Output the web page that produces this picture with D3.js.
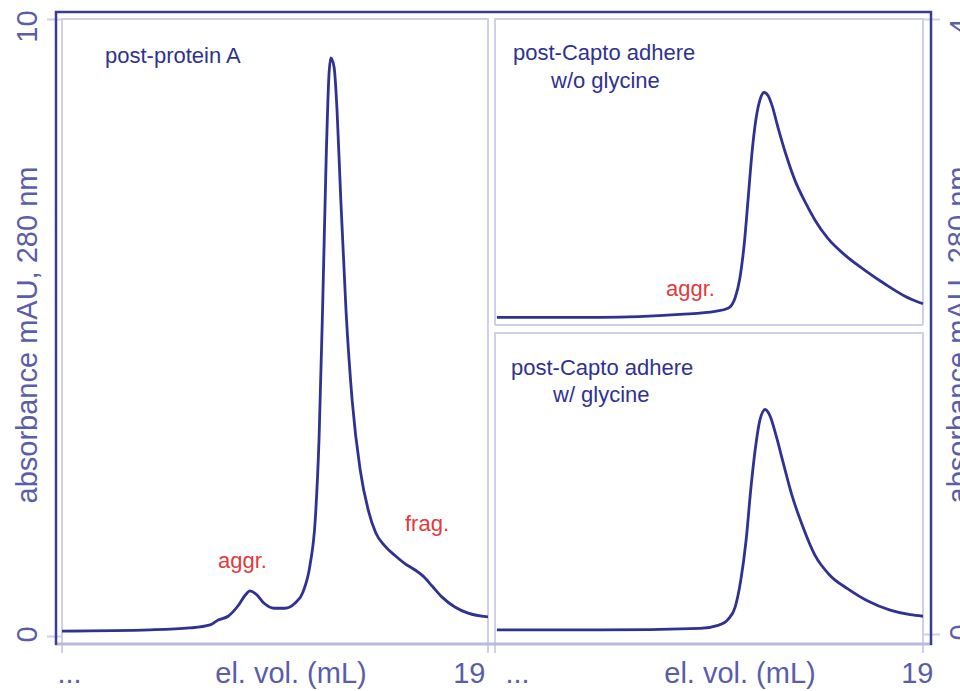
<!DOCTYPE html>
<html>
<head>
<meta charset="utf-8">
<script src="https://cdn.jsdelivr.net/npm/d3@7"></script>
<style>
  body { margin: 0; background: #fff; }
  text { font-family: "Liberation Sans", Arial, sans-serif; }
</style>
</head>
<body>
<svg id="chart" width="960" height="691"></svg>
<script>
// elution volume (mL) and absorbance
const protAVol = [10.00, 11.86, 12.70, 13.13, 13.30, 13.51, 13.72, 13.87, 13.97, 14.10, 14.27, 14.48, 14.71, 14.92, 15.09, 15.24, 15.35, 15.43, 15.51, 15.58, 15.64, 15.68, 15.75, 15.81, 15.89, 16.00, 16.13, 16.30, 16.47, 16.63, 16.82, 17.04, 17.25, 17.46, 17.63, 17.82, 18.03, 18.30, 18.58, 19.00];
const protAAbs = [0.08, 0.10, 0.13, 0.18, 0.26, 0.32, 0.49, 0.66, 0.73, 0.68, 0.53, 0.45, 0.45, 0.53, 0.71, 1.15, 1.88, 3.18, 5.45, 7.71, 9.09, 9.37, 9.21, 8.53, 7.07, 5.28, 3.82, 2.69, 2.04, 1.67, 1.46, 1.30, 1.17, 1.07, 0.97, 0.81, 0.63, 0.47, 0.37, 0.31];

const noGlyVol = [10.04, 12.21, 13.89, 14.63, 14.90, 15.05, 15.15, 15.24, 15.32, 15.40, 15.49, 15.57, 15.66, 15.74, 15.82, 15.95, 16.10, 16.31, 16.52, 16.73, 17.00, 17.36, 17.78, 18.20, 18.62, 19.00];
const noGlyAbs = [0.03, 0.03, 0.05, 0.07, 0.09, 0.16, 0.29, 0.51, 0.80, 1.10, 1.34, 1.46, 1.51, 1.49, 1.43, 1.28, 1.12, 0.93, 0.79, 0.67, 0.55, 0.44, 0.34, 0.25, 0.17, 0.12];

const glyVol = [10.04, 12.21, 14.31, 14.69, 14.90, 15.05, 15.17, 15.28, 15.38, 15.49, 15.57, 15.68, 15.78, 15.91, 16.06, 16.24, 16.46, 16.73, 17.04, 17.42, 17.84, 18.31, 18.73, 19.00];
const glyAbs = [0.04, 0.04, 0.05, 0.07, 0.11, 0.19, 0.37, 0.63, 0.97, 1.27, 1.42, 1.49, 1.45, 1.32, 1.14, 0.93, 0.73, 0.53, 0.40, 0.31, 0.23, 0.17, 0.14, 0.13];

const xTicks = [10, 19];
const xTickLabels = ["...", "19"];
const yLeftTicks = [0, 10];
const yRightTicks = [0, 4];

const DARK = "#383c96";
const LINE = "#2f3290";
const LIGHT = "#cfd0e8";
const TXT = "#5a5da8";
const RED = "#e23a3c";

const svg = d3.select("#chart");

// scales
const xLeft = d3.scaleLinear().domain([10, 19]).range([62, 488]);
const xRight = d3.scaleLinear().domain([10, 19]).range([495, 923]);
const yLeft = d3.scaleLinear().domain([0, 10]).range([636, 19]);
const yTop = d3.scaleLinear().domain([0, 2]).range([322, 18]);
const yBot = d3.scaleLinear().domain([0, 2]).range([636, 332]);
const yRight = d3.scaleLinear().domain([0, 4]).range([634, 19]);

// light panel frames
const panels = [
  [62, 19, 488, 653],
  [495, 19, 923, 325],
  [495, 333, 923, 653]
];
svg.selectAll(".panel")
  .data(panels)
  .enter()
  .append("path")
  .attr("d", d => `M${d[0]},${d[3]}V${d[1]}H${d[2]}V${d[3]}`)
  .attr("fill", "none")
  .attr("stroke", LIGHT)
  .attr("stroke-width", 2);
svg.append("line")
  .attr("x1", 495).attr("x2", 923).attr("y1", 325).attr("y2", 325)
  .attr("stroke", LIGHT).attr("stroke-width", 2);

// bottom axis line
svg.append("line")
  .attr("x1", 55).attr("x2", 932).attr("y1", 644).attr("y2", 644)
  .attr("stroke", "#b9bade").attr("stroke-width", 3);

// left y axis
const gL = svg.append("g")
  .attr("transform", "translate(56,0)")
  .call(d3.axisLeft(yLeft).tickValues(yLeftTicks).tickSize(9).tickFormat(d3.format("d")));
gL.select(".domain").remove();
gL.selectAll(".tick line").attr("x2", -9).attr("x1", 6).attr("stroke", LIGHT).attr("stroke-width", 2);
gL.selectAll(".tick text")
  .attr("x", null).attr("dy", null)
  .attr("text-anchor", "middle")
  .attr("transform", d => `translate(-19,${d === 10 ? 7 : -2}) rotate(-90)`)
  .attr("fill", TXT).attr("font-size", 29);

// right y axis (cut by the page edge, as in the original)
const gR = svg.append("g")
  .attr("transform", "translate(931,0)")
  .call(d3.axisRight(yRight).tickValues(yRightTicks).tickSize(9).tickFormat(d3.format("d")));
gR.select(".domain").remove();
gR.selectAll(".tick line").attr("x2", 9).attr("x1", -8).attr("stroke", LIGHT).attr("stroke-width", 2);
gR.selectAll(".tick text")
  .attr("x", null).attr("dy", null)
  .attr("text-anchor", "middle")
  .attr("transform", d => `translate(39,${d === 4 ? 7 : -2}) rotate(-90)`)
  .attr("fill", TXT).attr("font-size", 29);

// bottom x axes
[[xLeft, -5, -3, 16], [xRight, 10, 10, 31]].forEach(([xs, dxA, dxB, dxT]) => {
  const g = svg.append("g")
    .attr("transform", "translate(0,644)")
    .call(d3.axisBottom(xs).tickValues(xTicks).tickSize(0).tickFormat((d, i) => xTickLabels[i]));
  g.select(".domain").remove();
  g.selectAll(".tick line").remove();
  g.selectAll(".tick text")
    .attr("y", 39).attr("dy", null)
    .attr("text-anchor", (d, i) => i === 0 ? "start" : "end")
    .attr("dx", (d, i) => i === 0 ? dxA : dxB)
    .attr("fill", TXT).attr("font-size", 29);
  g.append("text")
    .attr("x", (xs.range()[0] + xs.range()[1]) / 2 + dxT)
    .attr("y", 39)
    .attr("text-anchor", "middle")
    .attr("fill", TXT).attr("font-size", 29)
    .text("el. vol. (mL)");
});

// y titles
[28, 959].forEach(x => {
  svg.append("text")
    .attr("transform", `translate(${x + 9},335) rotate(-90)`)
    .attr("text-anchor", "middle")
    .attr("fill", TXT).attr("font-size", 29)
    .text("absorbance mAU, 280 nm");
});

// dark frame
svg.append("path")
  .attr("d", "M56,645V12H931V645")
  .attr("fill", "none")
  .attr("stroke", DARK)
  .attr("stroke-width", 2.5);

// curves
const curves = [
  [protAVol, protAAbs, xLeft, yLeft],
  [noGlyVol, noGlyAbs, xRight, yTop],
  [glyVol, glyAbs, xRight, yBot]
];
curves.forEach(([vol, abs, xs, ys]) => {
  const line = d3.line()
    .x(i => xs(vol[i]))
    .y(i => ys(abs[i]))
    .curve(d3.curveMonotoneX);
  svg.append("path")
    .attr("d", line(d3.range(vol.length)))
    .attr("fill", "none")
    .attr("stroke", LINE)
    .attr("stroke-width", 2.8);
});

// panel labels
const notes = [
  ["post-protein A", 105, 63, LINE],
  ["post-Capto adhere", 513, 60, LINE],
  ["w/o glycine", 551, 88, LINE],
  ["post-Capto adhere", 511, 375, LINE],
  ["w/ glycine", 553, 402, LINE],
  ["aggr.", 218, 568, RED],
  ["frag.", 405, 531, RED],
  ["aggr.", 666, 296, RED]
];
svg.selectAll(".note")
  .data(notes)
  .enter()
  .append("text")
  .attr("x", d => d[1])
  .attr("y", d => d[2])
  .attr("fill", d => d[3])
  .attr("font-size", 22)
  .text(d => d[0]);
</script>
</body>
</html>
